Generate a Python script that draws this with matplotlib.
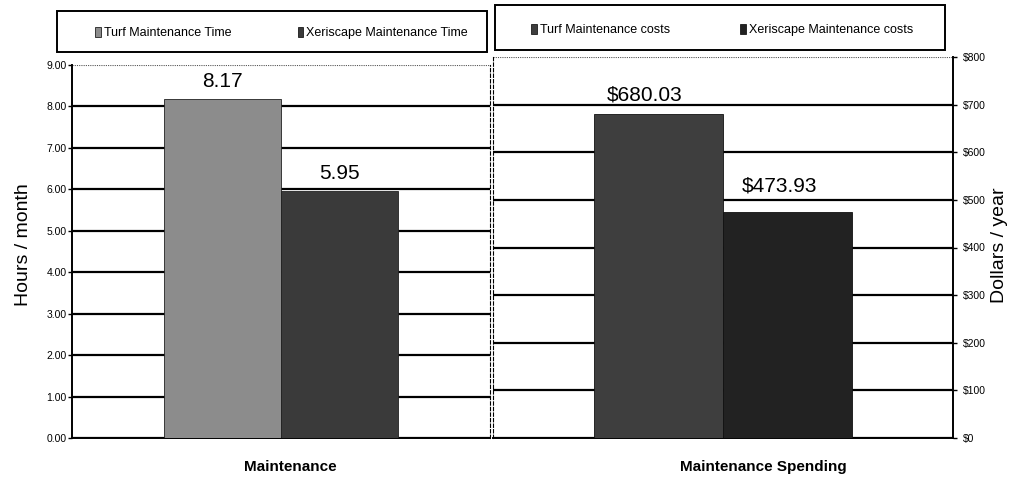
import matplotlib
matplotlib.use("Agg")
import matplotlib.pyplot as plt
from matplotlib.patches import Patch, Rectangle

plt.rcParams['font.family'] = ['Liberation Sans', 'DejaVu Sans']

# Data
time_series = ["Turf Maintenance Time", "Xeriscape Maintenance Time"]
time_values = [8.17, 5.95]
time_labels = ["8.17", "5.95"]
time_ticks = [0, 1, 2, 3, 4, 5, 6, 7, 8, 9]
time_tick_labels = ["0.00", "1.00", "2.00", "3.00", "4.00", "5.00", "6.00", "7.00", "8.00", "9.00"]

cost_series = ["Turf Maintenance costs", "Xeriscape Maintenance costs"]
cost_values = [680.03, 473.93]
cost_labels = ["$680.03", "$473.93"]
cost_ticks = [0, 100, 200, 300, 400, 500, 600, 700, 800]
cost_tick_labels = ["$0", "$100", "$200", "$300", "$400", "$500", "$600", "$700", "$800"]

categories = ["Maintenance", "Maintenance Spending"]

W, H = 1010, 479
fig = plt.figure(figsize=(W / 100, H / 100), dpi=100)

def fx(px):
    return px / W

def fy(py):
    return 1 - py / H

axL = fig.add_axes([fx(72), fy(438), fx(490) - fx(72), fy(65) - fy(438)])
axR = fig.add_axes([fx(493), fy(438), fx(953) - fx(493), fy(57) - fy(438)])

bw = 0.28
offsets = [-bw / 2, bw / 2]

def style(ax, ticks, ticklabels, ymax, right=False):
    ax.set_xlim(-0.5, 0.5)
    ax.set_ylim(0, ymax)
    ax.set_yticks(ticks)
    ax.set_yticklabels(ticklabels, fontsize=7.5)
    ax.set_xticks([])
    for t in ticks[:-1]:
        ax.axhline(t, color='black', lw=1.6, zorder=1)
    ax.axhline(ticks[-1], color='#555555', lw=0.8, ls=(0, (1, 1)), zorder=1)
    for s in ax.spines.values():
        s.set_visible(False)
    ax.spines['bottom'].set_visible(True)
    ax.spines['bottom'].set_linewidth(1.4)
    if right:
        ax.yaxis.tick_right()
        ax.spines['right'].set_visible(True)
        ax.spines['right'].set_linewidth(1.4)
        ax.spines['left'].set_visible(True)
        ax.spines['left'].set_linewidth(0.8)
        ax.spines['left'].set_linestyle((0, (3, 2)))
        ax.tick_params(axis='y', length=3, width=1, pad=4, colors='black')
    else:
        ax.spines['left'].set_visible(True)
        ax.spines['left'].set_linewidth(1.4)
        ax.spines['right'].set_visible(True)
        ax.spines['right'].set_linewidth(0.8)
        ax.spines['right'].set_linestyle((0, (3, 2)))
        ax.tick_params(axis='y', length=3, width=1, pad=1, colors='black')

style(axL, time_ticks, time_tick_labels, 9)
style(axR, cost_ticks, cost_tick_labels, 800, right=True)

colsL = ['#8c8c8c', '#3a3a3a']
colsR = ['#3e3e3e', '#222222']

for i in range(2):
    axL.bar(offsets[i], time_values[i], bw, color=colsL[i], edgecolor='#222222', lw=0.6, zorder=3)
    axL.annotate(time_labels[i], (offsets[i], time_values[i]), xytext=(0, 6), textcoords='offset points',
                 ha='center', va='bottom', fontsize=15, zorder=4)
    axR.bar(offsets[i], cost_values[i], bw, color=colsR[i], edgecolor='#111111', lw=0.6, zorder=3)

axR.annotate(cost_labels[0], (offsets[0], cost_values[0]), xytext=(-10, 7), textcoords='offset points',
             ha='center', va='bottom', fontsize=15, zorder=4)
axR.annotate(cost_labels[1], (offsets[1], cost_values[1]), xytext=(-6, 12), textcoords='offset points',
             ha='center', va='bottom', fontsize=15, zorder=4)

fig.text(fx(24), fy(245), "Hours / month", rotation=90, ha='center', va='center', fontsize=14)
fig.text(fx(1000), fy(245), "Dollars / year", rotation=90, ha='center', va='center', fontsize=14)

fig.text(fx(290), fy(467), categories[0], ha='center', va='center', fontsize=11, fontweight='bold')
fig.text(fx(763), fy(467), categories[1], ha='center', va='center', fontsize=11, fontweight='bold')

# legend frames
fig.patches.append(Rectangle((fx(57), fy(52)), fx(487) - fx(57), fy(11) - fy(52), transform=fig.transFigure,
                             fill=False, edgecolor='black', lw=1.4, zorder=5))
fig.patches.append(Rectangle((fx(495), fy(50)), fx(945) - fx(495), fy(5) - fy(50), transform=fig.transFigure,
                             fill=False, edgecolor='black', lw=1.4, zorder=5))

def add_legend(handles, labels, x0, yc, spacing):
    leg = fig.legend(handles, labels, loc='center left', ncol=2, bbox_to_anchor=(fx(x0), fy(yc)),
                     frameon=False, fontsize=9, handlelength=0.45, handleheight=0.8, handletextpad=0.25,
                     columnspacing=spacing, borderaxespad=0, borderpad=0)
    return leg

handlesL = [Patch(facecolor=colsL[i], edgecolor='black', lw=0.5) for i in range(2)]
add_legend(handlesL, time_series, 95, 33, 5.3)
handlesR = [Patch(facecolor=colsR[i], edgecolor='black', lw=0.5) for i in range(2)]
add_legend(handlesR, cost_series, 531, 30, 5.6)

fig.savefig("out.png", dpi=100)
